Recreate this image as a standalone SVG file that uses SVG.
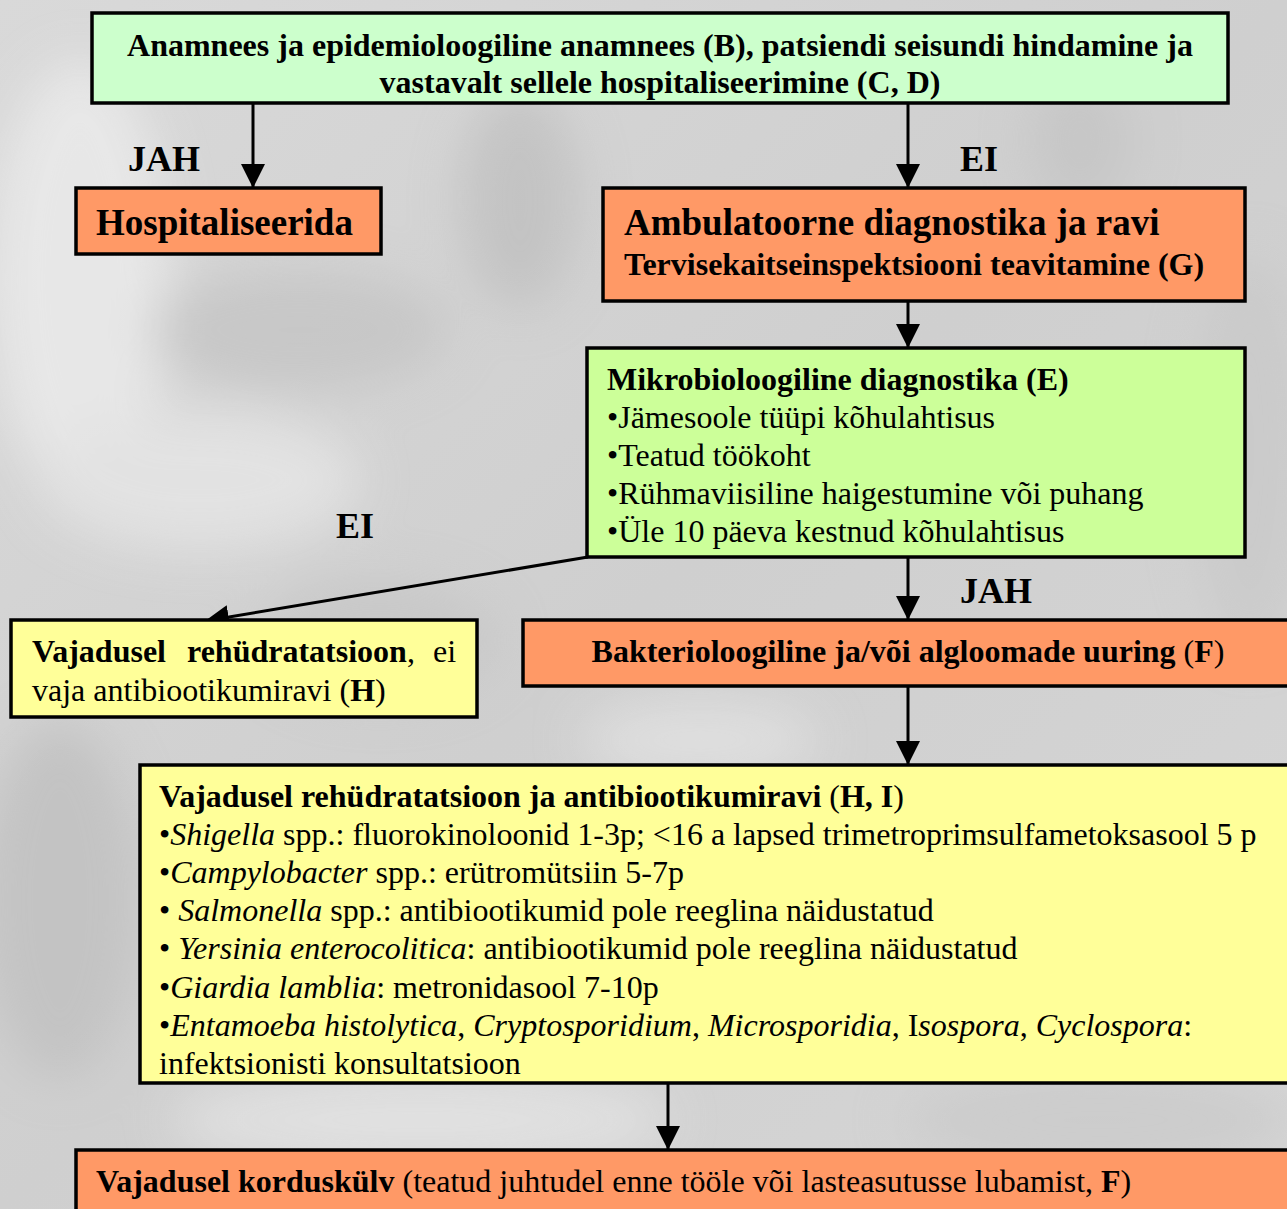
<svg xmlns="http://www.w3.org/2000/svg" width="1287" height="1209" viewBox="0 0 1287 1209">
<defs>
<style>
.box{stroke:#000;stroke-width:3.5}
.g1{fill:#ccffcc}.g2{fill:#ccff99}.o{fill:#ff9966}.y{fill:#ffff99}
text{font-family:"Liberation Serif","Times New Roman",serif;fill:#000}
.b{font-weight:bold}
.t{font-size:32px}
.h{font-size:37px;font-weight:bold}
.lab{font-size:36px;font-weight:bold}
.conn{stroke:#000;stroke-width:3;fill:none}
</style>
<marker id="ahb" viewBox="0 0 24 24" refX="24" refY="12" markerWidth="24" markerHeight="24" markerUnits="userSpaceOnUse" orient="auto">
<path d="M0,0 L24,12 L0,24 z" fill="#000"/>
</marker>
<filter id="bl" x="-50%" y="-50%" width="200%" height="200%"><feGaussianBlur stdDeviation="25"/></filter>
<linearGradient id="bg" x1="0" y1="0" x2="1" y2="1">
<stop offset="0" stop-color="#d9d9d9"/><stop offset="0.5" stop-color="#cfcfcf"/><stop offset="1" stop-color="#d6d6d6"/>
</linearGradient>
</defs>
<g id="background">
<rect width="1287" height="1209" fill="url(#bg)"/>
<g filter="url(#bl)" opacity="0.8">
<ellipse cx="80" cy="280" rx="90" ry="220" fill="#ececec"/>
<ellipse cx="300" cy="330" rx="150" ry="60" fill="#c4c4c4"/>
<ellipse cx="520" cy="200" rx="60" ry="110" fill="#c0c0c0"/>
<ellipse cx="1080" cy="140" rx="50" ry="70" fill="#c4c4c4"/>
<ellipse cx="1250" cy="450" rx="60" ry="200" fill="#c9c9c9"/>
<ellipse cx="200" cy="480" rx="160" ry="70" fill="#e6e6e6"/>
<ellipse cx="380" cy="640" rx="120" ry="60" fill="#c6c6c6"/>
<ellipse cx="60" cy="900" rx="80" ry="180" fill="#c0c0c0"/>
<ellipse cx="420" cy="1120" rx="250" ry="50" fill="#e4e4e4"/>
<ellipse cx="1100" cy="1120" rx="200" ry="50" fill="#cacaca"/>
<ellipse cx="700" cy="740" rx="120" ry="40" fill="#e2e2e2"/>
</g>
</g>
<g id="connectors">
<line class="conn" x1="253" y1="103" x2="253" y2="188" marker-end="url(#ahb)"/>
<line class="conn" x1="908" y1="103" x2="908" y2="188" marker-end="url(#ahb)"/>
<line class="conn" x1="908" y1="301" x2="908" y2="348" marker-end="url(#ahb)"/>
<line class="conn" x1="588" y1="557" x2="205" y2="621" marker-end="url(#ahb)"/>
<line class="conn" x1="908" y1="557" x2="908" y2="620" marker-end="url(#ahb)"/>
<line class="conn" x1="908" y1="686" x2="908" y2="765" marker-end="url(#ahb)"/>
<line class="conn" x1="668" y1="1083" x2="668" y2="1150" marker-end="url(#ahb)"/>
<text class="lab" x="128" y="171">JAH</text>
<text class="lab" x="960" y="171">EI</text>
<text class="lab" x="336" y="538">EI</text>
<text class="lab" x="960" y="603">JAH</text>
</g>
<g id="n-anamnees">
<rect class="box g1" x="92" y="13" width="1136" height="90"/>
<text class="t b" x="660" y="56" text-anchor="middle">Anamnees ja epidemioloogiline anamnees (B), patsiendi seisundi hindamine ja</text>
<text class="t b" x="660" y="93" text-anchor="middle">vastavalt sellele hospitaliseerimine (C, D)</text>
</g>
<g id="n-hospitaliseerida">
<rect class="box o" x="76" y="188" width="305" height="66"/>
<text class="h" x="96" y="235">Hospitaliseerida</text>
</g>
<g id="n-ambulatoorne">
<rect class="box o" x="603" y="188" width="642" height="113"/>
<text class="h" x="624" y="235">Ambulatoorne diagnostika ja ravi</text>
<text class="t b" x="624" y="275">Tervisekaitseinspektsiooni teavitamine (G)</text>
</g>
<g id="n-mikro">
<rect class="box g2" x="587" y="348" width="658" height="209"/>
<text class="t b" x="607" y="390">Mikrobioloogiline diagnostika (E)</text>
<text class="t" x="607" y="428">•Jämesoole tüüpi kõhulahtisus</text>
<text class="t" x="607" y="466">•Teatud töökoht</text>
<text class="t" x="607" y="504">•Rühmaviisiline haigestumine või puhang</text>
<text class="t" x="607" y="542">•Üle 10 päeva kestnud kõhulahtisus</text>
</g>
<g id="n-rehyd">
<rect class="box y" x="11" y="620" width="466" height="97"/>
<text class="t" x="32" y="662"><tspan class="b">Vajadusel</tspan> <tspan class="b" x="187">rehüdratatsioon</tspan><tspan>,</tspan><tspan x="433">ei</tspan></text>
<text class="t" x="32" y="701">vaja antibiootikumiravi (<tspan class="b">H</tspan>)</text>
</g>
<g id="n-bakt">
<rect class="box o" x="523" y="620" width="780" height="66"/>
<text class="t" x="908" y="662" text-anchor="middle"><tspan class="b">Bakterioloogiline ja/või algloomade uuring</tspan> (<tspan class="b">F</tspan>)</text>
</g>
<g id="n-antib">
<rect class="box y" x="140" y="765" width="1160" height="318"/>
<text class="t" x="159" y="807"><tspan class="b">Vajadusel rehüdratatsioon ja antibiootikumiravi</tspan> (<tspan class="b">H, I</tspan>)</text>
<text class="t" x="159" y="845">•<tspan font-style="italic">Shigella</tspan> spp.: fluorokinoloonid 1-3p; &lt;16 a lapsed trimetroprimsulfametoksasool 5 p</text>
<text class="t" x="159" y="883">•<tspan font-style="italic">Campylobacter</tspan> spp.: erütromütsiin 5-7p</text>
<text class="t" x="159" y="921">• <tspan font-style="italic">Salmonella</tspan> spp.: antibiootikumid pole reeglina näidustatud</text>
<text class="t" x="159" y="959">• <tspan font-style="italic">Yersinia enterocolitica</tspan>: antibiootikumid pole reeglina näidustatud</text>
<text class="t" x="159" y="998">•<tspan font-style="italic">Giardia lamblia</tspan>: metronidasool 7-10p</text>
<text class="t" x="159" y="1036">•<tspan font-style="italic">Entamoeba histolytica</tspan>, <tspan font-style="italic">Cryptosporidium</tspan>, <tspan font-style="italic">Microsporidia</tspan>, I<tspan font-style="italic">sospora</tspan>, <tspan font-style="italic">Cyclospora</tspan>:</text>
<text class="t" x="159" y="1074">infektsionisti konsultatsioon</text>
</g>
<g id="n-kordus">
<rect class="box o" x="76" y="1150" width="1230" height="70"/>
<text class="t" x="96" y="1192"><tspan class="b">Vajadusel korduskülv</tspan> (teatud juhtudel enne tööle või lasteasutusse lubamist, <tspan class="b">F</tspan>)</text>
</g>
</svg>
